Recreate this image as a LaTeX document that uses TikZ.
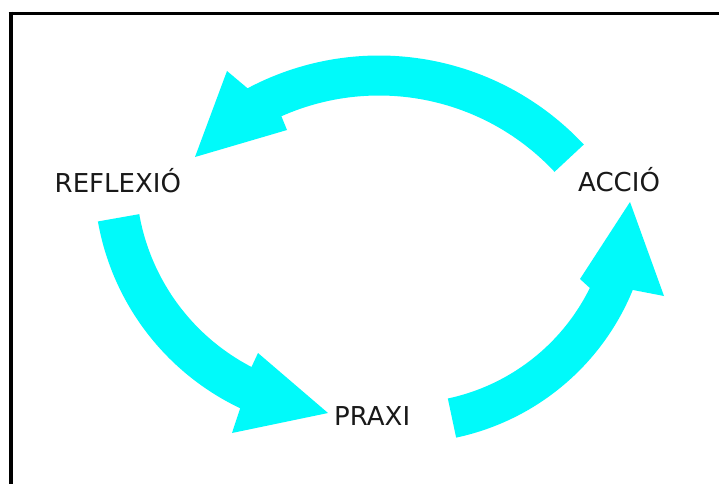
\documentclass[tikz,border=0pt]{standalone}
\usepackage{fontspec}
\setmainfont{DejaVu Sans}
\definecolor{arrowcyan}{RGB}{0,250,250}
\definecolor{labelink}{RGB}{25,25,25}
\begin{document}
\begin{tikzpicture}[x=1pt,y=-1pt,
  lbl/.style={inner sep=0pt, anchor=base west, font=\fontsize{26}{30}\selectfont, text=labelink},
  arrowshape/.style={fill=arrowcyan, draw=none},
  frameline/.style={draw=black}]
\useasboundingbox (0,0) rectangle (719,484);
\fill[white] (0,0) rectangle (719,484);
% frame (only top and left edges are visible)
\draw[frameline, line width=3.3pt] (8.5,13.3) -- (719,13.3);
\draw[frameline, line width=4pt] (10.5,11.7) -- (10.5,484);
% top arrow: ACCIO -> REFLEXIO
\fill[arrowshape] plot[domain=43:118,samples=60] ({379+280*cos(\x)},{335.5-280*sin(\x)})
  -- (227,71) -- (195,157) -- (287,130)
  -- plot[domain=114:43,samples=60] ({379+240*cos(\x)},{335.5-240*sin(\x)}) -- cycle;
% left arrow: REFLEXIO -> PRAXI
\fill[arrowshape] plot[domain=190:244.6,samples=60] ({350+256*cos(\x)},{177-256*sin(\x)})
  -- (232,433) -- (328,413) -- (258,353)
  -- plot[domain=242.6:190,samples=60] ({350+214*cos(\x)},{177-214*sin(\x)}) -- cycle;
% right arrow: PRAXI -> ACCIO
\fill[arrowshape] plot[domain=-78:-22.2,samples=60] ({405+246*cos(\x)},{197-246*sin(\x)})
  -- (664,296) -- (630,202) -- (580,279)
  -- plot[domain=-26.2:-78,samples=60] ({405+206*cos(\x)},{197-206*sin(\x)}) -- cycle;
% labels
\node[lbl] (refl) at (54.5,192.3) {REFLEXIÓ};
\node[lbl] (accio) at (578,191.5) {ACCIÓ};
\node[lbl] (praxi) at (334,425.5) {PRAXI};
\end{tikzpicture}
\end{document}
